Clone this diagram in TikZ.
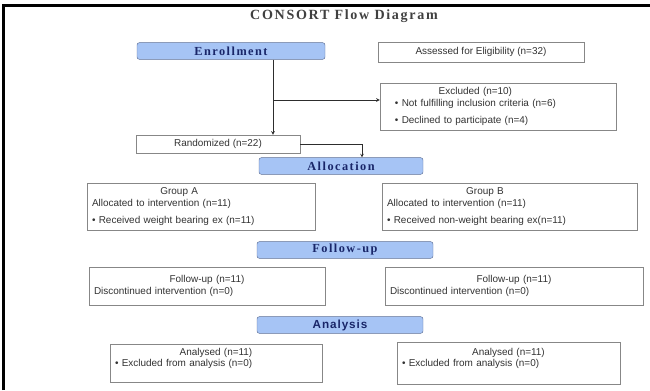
\documentclass[tikz,border=0pt]{standalone}
\usepackage{fontspec}
\setmainfont{Liberation Serif}
\setsansfont{Liberation Sans}

\definecolor{phasefill}{RGB}{166,196,245}
\definecolor{phaseline}{RGB}{95,112,150}
\definecolor{phasetext}{RGB}{25,38,105}
\definecolor{boxline}{RGB}{135,135,135}
\definecolor{linkcol}{RGB}{45,45,45}

\newcommand{\boxhead}[2][1]{\makebox[#1\hsize]{#2}\\}

\begin{document}
\begin{tikzpicture}[x=0.3mm, y=-0.3mm,
	phase/.style={draw=phaseline, fill=phasefill, rounded corners=2pt, minimum height=5mm, inner sep=0pt, text=phasetext,
		font=\fontsize{10.5}{12}\selectfont\bfseries\addfontfeatures{LetterSpace=12}},
	infobox/.style={draw=boxline, fill=white, inner xsep=1.5mm, inner ysep=0.5mm, text=black!80,
		font=\fontsize{8.5}{9.6}\selectfont\sffamily},
	link/.style={draw=linkcol, ->, >=stealth}]
	 \useasboundingbox (0,0) rectangle (650,390);
	 \draw[line width=0.9mm] (3.5,390) -- (3.5,5.5) -- (650,5.5);
	 \node[text=black!75, font=\fontsize{12}{14}\selectfont\bfseries\addfontfeatures{LetterSpace=12}] (title) at (344,16) {CONSORT Flow Diagram};

	 % enrollment
	 \node[phase, minimum width=56.4mm] (enrol) at (231,51) {Enrollment};
	 \node[infobox, minimum width=61.8mm, minimum height=6mm] (assess) at (481,52) {Assessed for Eligibility (n=32)};
	 \node[infobox, minimum width=70.8mm, minimum height=14.1mm, text width=67.8mm, align=left] (excl) at (498,106.5)
		{\boxhead[0.8]{Excluded (n=10)}\quad\textbullet\ Not fulfilling inclusion criteria (n=6)\\[5pt]\quad\textbullet\ Declined to participate (n=4)};
	 \node[infobox, minimum width=49.2mm, minimum height=5.4mm] (randomised) at (218,144) {Randomized (n=22)};
	 \coordinate (trunk) at (273,100);
	 \coordinate (drop) at (362,144);
	 \draw[link] (enrol.south -| trunk) -- (randomised.north -| trunk);
	 \draw[link] (trunk) -- (trunk -| excl.west);

	 % allocation
	 \node[phase, minimum width=49.2mm] (alloc) at (341,166) {Allocation};
	 \draw[link] (randomised.east) -| (alloc.north -| drop);
	 \node[infobox, minimum width=68.4mm, minimum height=14.1mm, text width=65.4mm, align=left] (groupA) at (201,206.5)
		{\boxhead[0.8]{Group A}Allocated to intervention (n=11)\\[5pt]\textbullet\ Received weight bearing ex (n=11)};
	 \node[infobox, minimum width=76.5mm, minimum height=14.1mm, text width=73.5mm, align=left] (groupB) at (509.5,206.5)
		{\boxhead[0.8]{Group B}Allocated to intervention (n=11)\\[5pt]\textbullet\ Received non-weight bearing ex(n=11)};

	 % follow-up
	 \node[phase, minimum width=52.8mm] (follow) at (345,250) {Follow-up};
	 \node[infobox, minimum width=70.8mm, minimum height=11.4mm, text width=67.8mm, align=left] (followA) at (207,286)
		{\boxhead{Follow-up (n=11)}Discontinued intervention (n=0)};
	 \node[infobox, minimum width=77.4mm, minimum height=11.4mm, text width=74.4mm, align=left] (followB) at (514,286)
		{\boxhead{Follow-up (n=11)}Discontinued intervention (n=0)};

	 % analysis
	 \node[phase, minimum width=49.8mm, font=\fontsize{10}{12}\selectfont\sffamily\bfseries\addfontfeatures{LetterSpace=8}] (analysis) at (340,325) {Analysis};
	 \node[infobox, minimum width=63.6mm, minimum height=11.4mm, text width=60.6mm, align=left] (analysedA) at (216,363)
		{\boxhead{Analysed (n=11)}\textbullet\ Excluded from analysis (n=0)\\ \mbox{}};
	 \node[infobox, minimum width=66.9mm, minimum height=12.6mm, text width=63.9mm, align=left] (analysedB) at (508.5,363)
		{\boxhead{Analysed (n=11)}\textbullet\ Excluded from analysis (n=0)\\ \mbox{}};
 \end{tikzpicture}
\end{document}
